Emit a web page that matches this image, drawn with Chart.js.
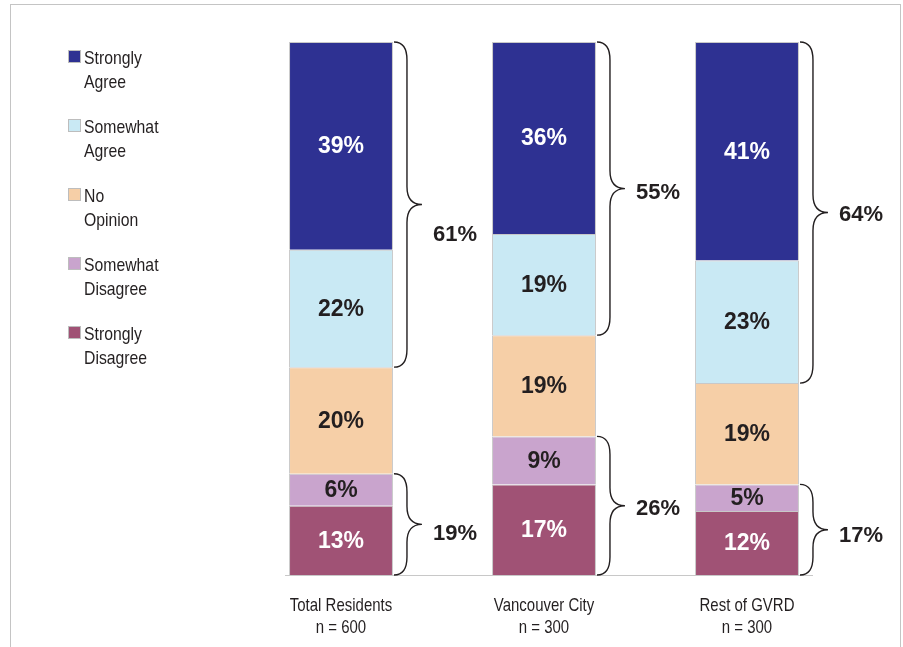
<!DOCTYPE html>
<html>
<head>
<meta charset="utf-8">
<script src="https://cdn.jsdelivr.net/npm/chart.js@4/dist/chart.umd.min.js"></script>
<style>
  html, body { margin: 0; padding: 0; background: #fff; overflow: hidden; }
  #wrap { position: relative; width: 903px; height: 647px; }
  #frame { position: absolute; left: 10px; top: 4px; width: 891px; height: 700px;
           border: 1px solid #c4c4c4; border-bottom: none; box-sizing: border-box; }
  canvas { position: absolute; left: 0; top: 0; }
</style>
</head>
<body>
<div id="wrap">
  <div id="frame"></div>
  <canvas id="c" width="903" height="647"></canvas>
</div>
<script>
// ---- data ----
const categories = ['Total Residents', 'Vancouver City', 'Rest of GVRD'];
const sampleSizes = [600, 300, 300];
const stronglyAgree    = [39, 36, 41];
const somewhatAgree    = [22, 19, 23];
const noOpinion        = [20, 19, 19];
const somewhatDisagree = [6, 9, 5];
const stronglyDisagree = [13, 17, 12];
const agreeNet    = [61, 55, 64];
const disagreeNet = [19, 26, 17];

// layout tweak for net labels (vertical nudge, px)
const agreeLabelNudge = [30, 4, 2];
const disagreeLabelNudge = [10, 3, 6];

const SANS = '"Liberation Sans", Arial, Helvetica, sans-serif';

// datasets bottom-to-top in stack
const datasets = [
  { label: ['Strongly', 'Disagree'], data: stronglyDisagree, backgroundColor: '#A05275', txt: '#ffffff' },
  { label: ['Somewhat', 'Disagree'], data: somewhatDisagree, backgroundColor: '#C9A4CD', txt: '#231f20' },
  { label: ['No', 'Opinion'],        data: noOpinion,        backgroundColor: '#F6CFA7', txt: '#231f20' },
  { label: ['Somewhat', 'Agree'],    data: somewhatAgree,    backgroundColor: '#C9E9F4', txt: '#231f20' },
  { label: ['Strongly', 'Agree'],    data: stronglyAgree,    backgroundColor: '#2E3192', txt: '#ffffff' }
].map(d => Object.assign(d, { borderColor: '#c8c8c8', borderWidth: 1, barPercentage: 1, categoryPercentage: 0.512 }));

function narrowText(ctx, text, x, y, align, sx) {
  ctx.save();
  ctx.translate(x, y);
  ctx.scale(sx, 1);
  ctx.textAlign = align;
  ctx.fillText(text, 0, 0);
  ctx.restore();
}

function brace(ctx, x0, y0, y1) {
  const d = 13, t = 15, r = Math.min(18, (y1 - y0) / 4);
  const ym = (y0 + y1) / 2;
  const xv = x0 + d;
  ctx.beginPath();
  ctx.moveTo(x0, y0);
  ctx.quadraticCurveTo(xv, y0, xv, y0 + r);
  ctx.lineTo(xv, ym - r);
  ctx.quadraticCurveTo(xv, ym, xv + t, ym);
  ctx.quadraticCurveTo(xv, ym, xv, ym + r);
  ctx.lineTo(xv, y1 - r);
  ctx.quadraticCurveTo(xv, y1, x0, y1);
  ctx.stroke();
  return { tip: xv + t, mid: ym };
}

const overlay = {
  id: 'overlay',
  afterDatasetsDraw(chart) {
    const ctx = chart.ctx;
    const n = chart.data.datasets.length;
    ctx.save();
    // baseline
    const first = chart.getDatasetMeta(0).data[0];
    const last = chart.getDatasetMeta(0).data[categories.length - 1];
    ctx.strokeStyle = '#c8c8c8';
    ctx.lineWidth = 1.2;
    ctx.beginPath();
    ctx.moveTo(first.x - first.width / 2 - 4, first.base + 0.5);
    ctx.lineTo(last.x + last.width / 2 + 14, first.base + 0.5);
    ctx.stroke();

    // values inside bars
    ctx.textAlign = 'center';
    ctx.textBaseline = 'middle';
    ctx.font = 'bold 23px ' + SANS;
    chart.data.datasets.forEach((ds, i) => {
      chart.getDatasetMeta(i).data.forEach((el, j) => {
        ctx.fillStyle = ds.txt;
        ctx.fillText(ds.data[j] + '%', el.x, (el.y + el.base) / 2 + 1);
      });
    });

    // braces
    ctx.strokeStyle = '#231f20';
    ctx.lineWidth = 1.4;
    const top = chart.getDatasetMeta(n - 1).data;
    const swa = chart.getDatasetMeta(n - 2).data;
    const sd = chart.getDatasetMeta(1).data;
    const sdd = chart.getDatasetMeta(0).data;
    for (let j = 0; j < categories.length; j++) {
      const x0 = top[j].x + top[j].width / 2 + 1;
      ctx.textAlign = 'left';
      ctx.font = 'bold 22px ' + SANS;
      ctx.fillStyle = '#231f20';
      let b = brace(ctx, x0, top[j].y, swa[j].base);
      ctx.fillText(agreeNet[j] + '%', b.tip + 11, b.mid + agreeLabelNudge[j]);
      b = brace(ctx, x0, sd[j].y, sdd[j].base);
      ctx.fillText(disagreeNet[j] + '%', b.tip + 11, b.mid + disagreeLabelNudge[j]);
    }

    // category labels
    ctx.textBaseline = 'alphabetic';
    ctx.font = '18.5px ' + SANS;
    ctx.fillStyle = '#231f20';
    for (let j = 0; j < categories.length; j++) {
      const x = top[j].x;
      narrowText(ctx, categories[j], x, 611, 'center', 0.81);
      narrowText(ctx, 'n = ' + sampleSizes[j], x, 633, 'center', 0.81);
    }

    // legend (top to bottom)
    let yy = 50;
    for (let i = n - 1; i >= 0; i--) {
      const ds = chart.data.datasets[i];
      ctx.fillStyle = ds.backgroundColor;
      ctx.fillRect(68, yy, 13, 13);
      ctx.strokeStyle = '#bdbdbd';
      ctx.lineWidth = 1;
      ctx.strokeRect(68.5, yy + 0.5, 12, 12);
      ctx.fillStyle = '#231f20';
      ctx.font = '19px ' + SANS;
      narrowText(ctx, ds.label[0], 84, yy + 14, 'left', 0.83);
      narrowText(ctx, ds.label[1], 84, yy + 38, 'left', 0.83);
      yy += 69;
    }
    ctx.restore();
  }
};

new Chart(document.getElementById('c'), {
  type: 'bar',
  data: { labels: categories, datasets: datasets },
  options: {
    responsive: false,
    animation: false,
    layout: { padding: { left: 239.5, right: 54.5, top: 42, bottom: 72 } },
    plugins: { legend: { display: false }, tooltip: { enabled: false } },
    scales: {
      x: { stacked: true, display: false },
      y: { stacked: true, display: false, min: 0, max: 100 }
    }
  },
  plugins: [overlay]
});
</script>
</body>
</html>
